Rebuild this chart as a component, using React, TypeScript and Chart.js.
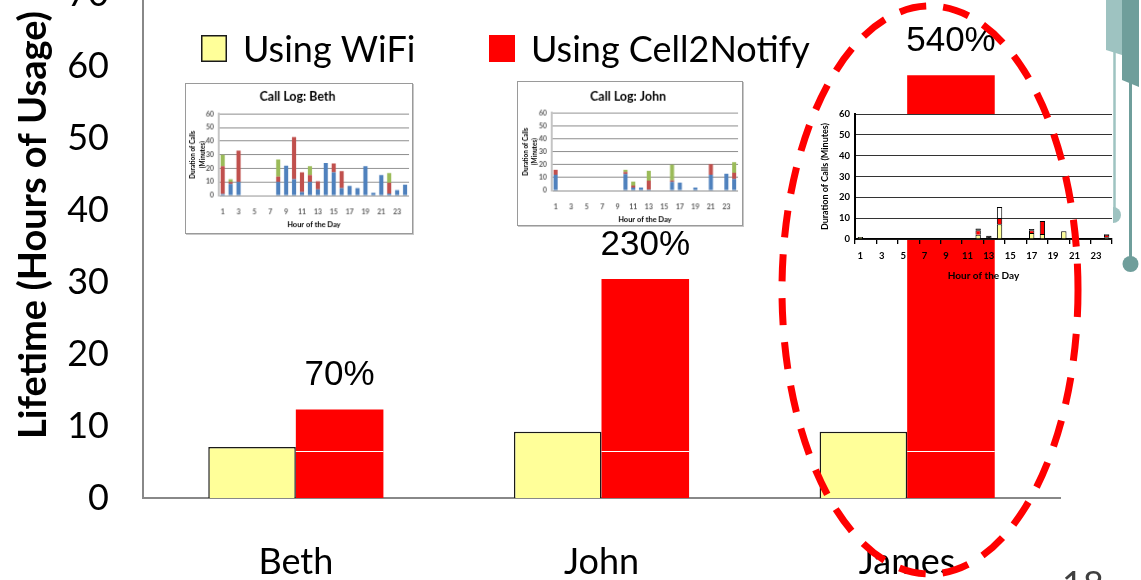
import React, { useEffect, useRef } from "react";
import { Chart, registerables } from "chart.js";

Chart.register(...registerables);

// ---- main chart data ----
const users = ["Beth", "John", "James"];
const wifiHours = [7.1, 9.2, 9.2];
const cell2NotifyHours = [12.3, 30.4, 58.7];
const gainLabels = ["70%", "230%", "540%"];
const lifetimeTicks = [0, 10, 20, 30, 40, 50, 60, 70];
const seriesNames = ["Using WiFi", "Using Cell2Notify"];

// ---- call logs (minutes per hour of day) ----
const hours = ["1", "2", "3", "4", "5", "6", "7", "8", "9", "10", "11", "12",
  "13", "14", "15", "16", "17", "18", "19", "20", "21", "22", "23", "24"];
const minuteTicks = [0, 10, 20, 30, 40, 50, 60];

const bethBlue = [1, 8.5, 10, 0, 0, 0, 0, 10, 22, 12, 2.5, 10, 4.5, 24, 17, 5.5, 7, 5.5, 21.5, 2, 15, 1.5, 4, 8];
const bethRed = [20.5, 1.5, 23, 0, 0, 0, 0, 4, 0, 31, 14.5, 5, 6, 0, 6.5, 12.5, 0, 0, 0, 0, 0, 8, 0, 0];
const bethGreen = [8.5, 2, 0, 0, 0, 0, 0, 12.5, 0, 0, 0, 6.5, 0, 0, 0, 0, 0, 0, 0, 0, 0, 7, 0, 0];

const johnBlue = [12.2, 0, 0, 0, 0, 0, 0, 0, 0, 12.7, 2.3, 2.3, 0.8, 0, 0, 6.6, 6.1, 0, 2.3, 0, 12.2, 0, 13, 8.9];
const johnRed = [3.8, 0, 0, 0, 0, 0, 0, 0, 0, 1.5, 1.5, 0, 6.8, 0, 0, 1.3, 0, 0, 0, 0, 8.1, 0, 0, 4.8];
const johnGreen = [0, 0, 0, 0, 0, 0, 0, 0, 0, 1.8, 3.1, 0, 7.7, 0, 0, 12.1, 0, 0, 0, 0, 0, 0, 0, 8.3];

const jamesYellow = [1, 0, 0, 0, 0, 0, 0, 0, 0, 0, 0, 2.1, 0, 7.1, 0, 0, 2.9, 2.4, 0, 3.7, 0, 0, 0, 0.8];
const jamesRed = [0, 0, 0, 0, 0, 0, 0, 0, 0, 0, 0, 2.1, 0, 3, 0, 0, 1.3, 6.3, 0, 0, 0, 0, 0, 1.3];
const jamesDark = [0, 0, 0, 0, 0, 0, 0, 0, 0, 0, 0, 0.8, 1.6, 0, 0.5, 0, 0.6, 0, 0, 0, 0, 0, 0, 0.3];
const jamesWhite = [0, 0, 0, 0, 0, 0, 0, 0, 0, 0, 0, 0, 0, 5.3, 0, 0, 0, 0, 0, 0, 0, 0, 0, 0];

const SANS = "Lato, 'Open Sans', sans-serif";
const ARIAL = "'Liberation Sans', Arial, sans-serif";
const WIFI_COLOR = "#ffff99";
const CELL_COLOR = "#ff0000";

// the main canvas starts 40px above the page so the 70 tick sits just off the top
const MAIN_SHIFT = 40;

const slideLegend = {
  id: "slideLegend",
  afterDraw(chart: any) {
    const { ctx } = chart;
    const boxes = [201, 489];
    ctx.save();
    chart.data.datasets.forEach((ds: any, i: number) => {
      const x = boxes[i];
      const y = 35 + MAIN_SHIFT;
      ctx.fillStyle = ds.backgroundColor;
      ctx.fillRect(x, y, 26, 27);
      if (i === 0) {
        ctx.strokeStyle = "#1a1a1a";
        ctx.lineWidth = 1.5;
        ctx.strokeRect(x + 0.75, y + 0.75, 24.5, 25.5);
      }
      ctx.fillStyle = "#000";
      ctx.font = `36px ${SANS}`;
      ctx.textBaseline = "alphabetic";
      ctx.textAlign = "left";
      ctx.fillText(ds.label, x + 42, 62 + MAIN_SHIFT);
    });
    ctx.restore();
  },
};

const lifetimeTitle = {
  id: "lifetimeTitle",
  afterDraw(chart: any) {
    const { ctx } = chart;
    ctx.save();
    ctx.translate(34, 225 + MAIN_SHIFT);
    ctx.rotate(-Math.PI / 2);
    ctx.font = `bold 38px ${SANS}`;
    ctx.fillStyle = "#000";
    ctx.textAlign = "center";
    ctx.textBaseline = "middle";
    ctx.fillText("Lifetime (Hours of Usage)", 0, 0);
    ctx.restore();
  },
};

const gainLabelsPlugin = {
  id: "gainLabels",
  afterDatasetsDraw(chart: any) {
    const { ctx } = chart;
    const meta = chart.getDatasetMeta(1);
    ctx.save();
    ctx.font = `35px ${ARIAL}`;
    ctx.fillStyle = "#000";
    ctx.textAlign = "center";
    ctx.textBaseline = "alphabetic";
    meta.data.forEach((bar: any, i: number) => {
      ctx.fillText(gainLabels[i], bar.x, bar.y - 24);
    });
    ctx.restore();
  },
};

// thin white seam that runs across the Cell2Notify bars
const SEAM_VALUE = 6.5;
const barSeam = {
  id: "barSeam",
  afterDatasetsDraw(chart: any) {
    const { ctx } = chart;
    const y = Math.round(chart.scales.y.getPixelForValue(SEAM_VALUE)) + 0.5;
    ctx.save();
    ctx.strokeStyle = "#ffffff";
    ctx.lineWidth = 1;
    chart.getDatasetMeta(1).data.forEach((bar: any) => {
      ctx.beginPath();
      ctx.moveTo(bar.x - bar.width / 2, y);
      ctx.lineTo(bar.x + bar.width / 2, y);
      ctx.stroke();
    });
    ctx.restore();
  },
};

function LifetimeChart() {
  const ref = useRef<HTMLCanvasElement>(null);
  useEffect(() => {
    const chart = new Chart(ref.current as HTMLCanvasElement, {
      type: "bar",
      data: {
        labels: users,
        datasets: [
          {
            label: seriesNames[0],
            data: wifiHours,
            backgroundColor: WIFI_COLOR,
            borderColor: "#1a1a1a",
            borderWidth: 1.5,
            categoryPercentage: 0.573,
            barPercentage: 1,
          },
          {
            label: seriesNames[1],
            data: cell2NotifyHours,
            backgroundColor: CELL_COLOR,
            borderWidth: 0,
            categoryPercentage: 0.573,
            barPercentage: 1,
          },
        ],
      },
      options: {
        responsive: false,
        animation: false,
        devicePixelRatio: 1,
        layout: { padding: { left: 0, right: 81, top: 34, bottom: 0 } },
        plugins: {
          legend: { display: false },
          tooltip: { enabled: false },
          title: { display: false },
        },
        scales: {
          x: {
            grid: { display: false },
            border: { display: true, color: "#888888", width: 2 },
            ticks: { color: "#000", font: { family: SANS, size: 36 }, padding: 35 },
            afterFit: (s: any) => {
              s.height = 82;
              s.paddingLeft = 0;
              s.paddingRight = 0;
            },
          },
          y: {
            min: 0,
            max: 70,
            grid: { display: false },
            border: { display: true, color: "#888888", width: 2 },
            ticks: { color: "#000", font: { family: SANS, size: 36 }, padding: 26 },
            afterBuildTicks: (s: any) => {
              s.ticks = lifetimeTicks.map((v) => ({ value: v }));
            },
            afterFit: (s: any) => {
              s.width = 143;
              s.paddingTop = 0;
              s.paddingBottom = 0;
            },
          },
        },
      },
      plugins: [slideLegend, lifetimeTitle, gainLabelsPlugin, barSeam],
    });
    return () => chart.destroy();
  }, []);
  return (
    <canvas
      ref={ref}
      width={1141}
      height={620}
      style={{ position: "absolute", left: 0, top: -MAIN_SHIFT, width: 1141, height: 620 }}
    />
  );
}

type InsetFrame = {
  yWidth: number;
  xHeight: number;
  right: number;
  titleTop: number;
  titleBottom: number;
  yTitleTop: number;
  yTickPad: number;
  xTickPad: number;
  xTitleBottom: number;
};

const oddHourLabel = (_v: any, i: number) => (i % 2 === 0 ? hours[i] : "");

function buildCallLog(canvas: HTMLCanvasElement, title: string, series: number[][], f: InsetFrame) {
  const colors = ["#4f81bd", "#c0504d", "#9bbb59"];
  return new Chart(canvas, {
    type: "bar",
    data: {
      labels: hours,
      datasets: series.map((d, i) => ({
        data: d,
        backgroundColor: colors[i],
        borderWidth: 0,
        barPercentage: 0.52,
        categoryPercentage: 1,
      })),
    },
    options: {
      responsive: false,
      animation: false,
      devicePixelRatio: 1,
      layout: { padding: { left: 0, right: f.right, top: 0, bottom: 0 } },
      plugins: {
        legend: { display: false },
        tooltip: { enabled: false },
        title: {
          display: true,
          text: title,
          color: "#000",
          font: { family: SANS, size: 12.5, weight: "bold" },
          padding: { top: f.titleTop, bottom: f.titleBottom },
        },
      },
      scales: {
        x: {
          stacked: true,
          grid: { display: false },
          border: { display: false },
          ticks: {
            autoSkip: false,
            maxRotation: 0,
            padding: f.xTickPad,
            color: "#595959",
            font: { family: SANS, size: 7, weight: "bold" },
            callback: oddHourLabel,
          },
          title: {
            display: true,
            text: "Hour of the Day",
            color: "#000",
            font: { family: SANS, size: 7.5, weight: "bold" },
            padding: { top: 0, bottom: f.xTitleBottom },
          },
          afterFit: (s: any) => {
            s.height = f.xHeight;
          },
        },
        y: {
          stacked: true,
          min: 0,
          max: 60,
          grid: { color: "#8c8c8c", lineWidth: 1, drawTicks: false },
          border: { color: "#c4c4c4", width: 2 },
          ticks: {
            padding: f.yTickPad,
            color: "#595959",
            font: { family: SANS, size: 7, weight: "bold" },
          },
          afterBuildTicks: (s: any) => {
            s.ticks = minuteTicks.map((v) => ({ value: v }));
          },
          title: {
            display: true,
            text: ["Duration of Calls", "(Minutes)"],
            color: "#000",
            font: { family: SANS, size: 6.5, weight: "bold", lineHeight: 1.45 },
            padding: { top: f.yTitleTop, bottom: 0 },
          },
          afterFit: (s: any) => {
            s.width = f.yWidth;
          },
        },
      },
    },
  });
}

function CallLogInset(props: {
  title: string;
  series: number[][];
  frame: InsetFrame;
  left: number;
  top: number;
  width: number;
  height: number;
}) {
  const ref = useRef<HTMLCanvasElement>(null);
  useEffect(() => {
    const chart = buildCallLog(ref.current as HTMLCanvasElement, props.title, props.series, props.frame);
    return () => chart.destroy();
  }, []);
  return (
    <canvas
      ref={ref}
      width={props.width}
      height={props.height}
      style={{
        position: "absolute",
        left: props.left,
        top: props.top,
        width: props.width,
        height: props.height,
        background: "#fff",
        border: "1px solid #9a9a9a",
        boxShadow: "1px 1px 0 #c8c8c8",
      }}
    />
  );
}

const whitePlotArea = {
  id: "whitePlotArea",
  beforeDraw(chart: any) {
    const { ctx, chartArea } = chart;
    ctx.save();
    ctx.fillStyle = "#ffffff";
    ctx.fillRect(chartArea.left, chartArea.top, chartArea.right - chartArea.left, chartArea.bottom - chartArea.top);
    ctx.restore();
  },
};

function JamesCallLog() {
  const ref = useRef<HTMLCanvasElement>(null);
  useEffect(() => {
    const fills = ["#ffff99", "#ff0000", "#222222", "#ffffff"];
    const series = [jamesYellow, jamesRed, jamesDark, jamesWhite];
    const chart = new Chart(ref.current as HTMLCanvasElement, {
      type: "bar",
      data: {
        labels: hours,
        datasets: series.map((d, i) => ({
          data: d,
          backgroundColor: fills[i],
          borderColor: "#000",
          borderWidth: 1,
          barPercentage: 0.5,
          categoryPercentage: 1,
        })),
      },
      options: {
        responsive: false,
        animation: false,
        devicePixelRatio: 1,
        layout: { padding: { left: 0, right: 1, top: 14, bottom: 0 } },
        plugins: { legend: { display: false }, tooltip: { enabled: false } },
        scales: {
          x: {
            stacked: true,
            grid: {
              drawOnChartArea: false,
              drawTicks: true,
              tickLength: 5,
              lineWidth: 1.3,
              color: (c: any) => (c.index === undefined || c.index % 2 === 0 ? "#000" : "rgba(0,0,0,0)"),
            },
            border: { color: "#000", width: 1.5 },
            ticks: {
              autoSkip: false,
              maxRotation: 0,
              padding: 6,
              color: "#000",
              font: { family: SANS, size: 9.5, weight: "bold" },
              callback: oddHourLabel,
            },
            title: {
              display: true,
              text: "Hour of the Day",
              color: "#000",
              font: { family: SANS, size: 10, weight: "bold" },
              padding: { top: 0, bottom: 8 },
            },
            afterFit: (s: any) => {
              s.height = 51;
            },
          },
          y: {
            stacked: true,
            min: 0,
            max: 60,
            grid: { color: "#333333", lineWidth: 1, drawTicks: false },
            border: { color: "#000", width: 2 },
            ticks: {
              padding: 5,
              color: "#000",
              font: { family: SANS, size: 9.5, weight: "bold" },
            },
            afterBuildTicks: (s: any) => {
              s.ticks = minuteTicks.map((v) => ({ value: v }));
            },
            title: {
              display: true,
              text: "Duration of Calls (Minutes)",
              color: "#000",
              font: { family: SANS, size: 9, weight: "bold" },
              padding: { top: 24.5, bottom: 0 },
            },
            afterFit: (s: any) => {
              s.width = 60;
            },
          },
        },
      },
      plugins: [whitePlotArea],
    });
    return () => chart.destroy();
  }, []);
  return (
    <canvas
      ref={ref}
      width={318}
      height={190}
      style={{ position: "absolute", left: 795, top: 100, width: 318, height: 190 }}
    />
  );
}

function SlideOverlay() {
  const light = "#9ec3c1";
  const dark = "#6f9e9b";
  return (
    <svg
      width={1141}
      height={580}
      style={{ position: "absolute", left: 0, top: 0, pointerEvents: "none" }}
    >
      <polygon points="1106,0 1122,0 1122,55 1106,50" fill={light} />
      <polygon points="1122,0 1139,0 1139,87 1122,80" fill={dark} />
      <line x1={1114.5} y1={50} x2={1114.5} y2={210} stroke={light} strokeWidth={2.5} />
      <path d="M1113,207 A8,8 0 0 1 1113,223 Z" fill={light} />
      <line x1={1130.5} y1={80} x2={1130.5} y2={258} stroke={dark} strokeWidth={3} />
      <circle cx={1130.5} cy={264} r={8} fill={dark} />
      <ellipse
        cx={930}
        cy={290}
        rx={148}
        ry={284}
        fill="none"
        stroke="#ff0000"
        strokeWidth={7}
        strokeDasharray="27 17"
      />
      <text x={1062} y={597} fontFamily={SANS} fontSize={36} fill="#404040">
        18
      </text>
    </svg>
  );
}

const bethFrame: InsetFrame = {
  yWidth: 33,
  xHeight: 38,
  right: 3,
  titleTop: 5.5,
  titleBottom: 9.8,
  yTitleTop: 2.3,
  yTickPad: 5,
  xTickPad: 5,
  xTitleBottom: 4,
};

const johnFrame: InsetFrame = {
  yWidth: 34,
  xHeight: 35,
  right: 4,
  titleTop: 7.8,
  titleBottom: 8.5,
  yTitleTop: 3,
  yTickPad: 5,
  xTickPad: 5,
  xTitleBottom: 1.2,
};

export default function App() {
  return (
    <div
      style={{
        position: "fixed",
        left: 0,
        top: 0,
        width: 1141,
        height: 580,
        overflow: "hidden",
        background: "#fff",
      }}
    >
      <LifetimeChart />
      <CallLogInset
        title="Call Log: Beth"
        series={[bethBlue, bethRed, bethGreen]}
        frame={bethFrame}
        left={185}
        top={83}
        width={228}
        height={151}
      />
      <CallLogInset
        title="Call Log: John"
        series={[johnBlue, johnRed, johnGreen]}
        frame={johnFrame}
        left={517}
        top={81}
        width={226}
        height={145}
      />
      <JamesCallLog />
      <SlideOverlay />
    </div>
  );
}
